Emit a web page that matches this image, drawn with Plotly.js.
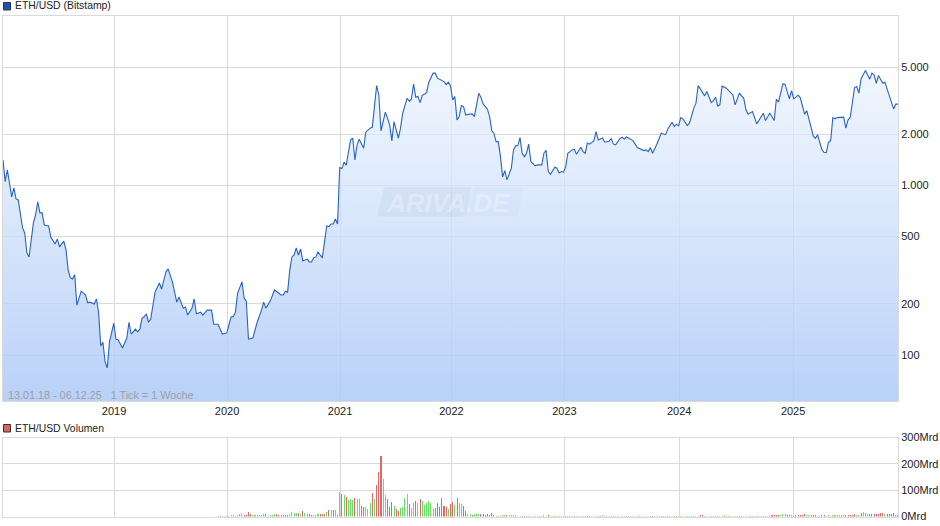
<!DOCTYPE html>
<html>
<head>
<meta charset="utf-8">
<script src="https://cdn.plot.ly/plotly-3.0.1.min.js"></script>
<style>html,body{margin:0;padding:0;background:#fff}#chart{width:940px;height:526px}</style>
</head>
<body>
<div id="chart"></div>
<script>
const startDate = '2018-01-13';
const priceWeeks = [0,1,2,4,5,6,7,9,10,11,12,14,15,16,17,18,19,21,22,24,25,26,28,29,30,31,32,33,34,35,36,38,39,40,42,43,44,45,46,47,48,49,51,52,53,55,56,57,58,59,61,62,63,64,65,66,67,68,70,72,73,75,76,78,80,81,83,84,85,87,88,89,91,92,94,96,97,99,101,103,105,106,107,108,110,111,112,113,115,117,119,120,121,123,125,128,129,130,131,132,133,134,135,136,137,138,140,141,142,143,144,145,147,148,149,150,151,152,153,154,155,156,157,158,160,161,162,163,164,166,167,169,170,172,173,174,176,177,178,179,180,182,183,184,185,186,187,188,189,190,191,192,193,195,196,198,199,200,203,204,205,206,207,208,209,210,211,212,213,216,217,219,220,221,223,224,225,226,227,228,229,230,231,232,234,235,236,237,238,239,240,241,242,243,245,246,248,249,250,251,252,254,255,256,257,258,259,260,262,263,264,266,267,268,269,270,272,273,274,276,277,279,280,281,282,284,285,286,287,289,290,292,293,295,296,297,298,299,301,303,305,306,308,309,310,311,312,313,315,316,318,319,320,323,324,326,327,328,329,330,331,333,336,337,339,341,342,343,345,347,350,351,353,355,356,357,359,360,362,363,364,366,367,369,370,373,374,375,377,378,379,380,381,382,383,384,387,388,389,390,392,393,394,395,397,399,400,401,402,403,405,406,407,409,410,411,412];
const priceValues = [1416,1054,1236,856,968,833,822,562,525,400,379,601,670,800,689,689,585,577,497,452,483,434,470,417,317,285,281,297,197,220,238,226,203,205,200,214,179,113,119,91,84,119,154,124,123,110,119,126,156,133,142,137,142,165,168,175,156,163,235,266,245,309,322,270,205,220,189,192,172,189,214,175,179,172,184,184,152,152,133,135,168,168,179,232,270,217,208,124,126,156,184,205,189,208,242,226,226,238,235,317,379,389,428,389,422,359,368,354,354,374,379,405,374,477,577,572,593,593,635,593,1275,1258,1372,1318,1858,1900,1416,1736,1875,1660,2063,2178,2205,3885,3420,2100,2708,2495,2280,1833,2380,1900,2178,2670,2990,3270,3145,3230,3960,3320,3350,3085,3390,3530,4070,4600,4600,4300,4100,3940,4070,3870,3200,3345,2440,2550,2960,2920,2610,2646,2550,3500,3320,3030,2820,2550,2110,2030,1815,1815,1480,1125,1225,1079,1265,1622,1713,1720,1918,1550,1480,1550,1753,1385,1305,1323,1323,1550,1615,1208,1165,1282,1265,1187,1208,1198,1282,1550,1622,1635,1530,1680,1585,1550,1780,1753,1833,2080,1858,1909,1800,1825,1890,1753,1736,1890,1927,1883,1935,1883,1840,1673,1645,1607,1622,1585,1673,1550,1753,2035,1995,2150,2363,2225,2300,2248,2515,2473,2257,2330,2860,3060,3885,3380,3585,3085,3158,3320,2950,2990,3855,3750,3420,2990,3500,3270,2794,2635,2730,2310,2670,2415,2670,2415,3230,3100,3978,3960,3245,3630,3245,3410,3300,2635,2765,1962,1900,1990,1622,1565,1565,1800,1840,2515,2473,2515,2530,2178,2440,2515,3780,3835,3500,4250,4765,4240,4600,4495,4010,4450,4010,4070,3700,3060,2830,3020,3020];

const volumeFirstWeek = 99;
const volumeValues = [
2.5,2.5,2.5,2.5,2.5,2.5,6,6,2.5,6,
10,10,6,6,18,10,6,6,6,6,
6,10,10,2.5,6,6,10,10,6,6,
6,6,6,10,18,14,14,14,10,22,
14,10,10,6,6,6,10,10,10,10,
18,25,25,25,25,6,94,86,82,75,
63,67,63,71,67,67,40,37,37,29,
52,90,67,120,170,230,143,82,67,37,
56,40,29,22,33,37,71,86,48,33,
52,60,52,67,60,44,52,60,52,29,
33,52,37,71,40,37,29,48,56,44,
71,52,48,40,22,10,10,6,10,10,
10,10,10,6,10,6,14,6,2.5,2.5,
2.5,6,6,6,6,6,6,6,2.5,2.5,2.5,
2.5,2.5,2.5,2.5,2.5,2.5,2.5,2.5,2.5,6,
2.5,5,2.5,2.5,2.5,2.5,2.5,2.5,2.5,2.5,
2.5,2.5,2.5,2.5,2.5,2.5,2.5,2.5,2.5,2.5,
2.5,2.5,2.5,2.5,2.5,2.5,5,2.5,2.5,2.5,
2.5,2.5,2.5,2.5,2.5,2.5,2.5,2.5,2.5,2.5,
2.5,2.5,2.5,2.5,2.5,2.5,2.5,2.5,2.5,2.5,
2.5,2.5,2.5,2.5,2.5,2.5,2.5,2.5,2.5,2.5,
2.5,2.5,2.5,2.5,2.5,2.5,2.5,2.5,2.5,2.5,
2.5,6,6,2.5,2.5,2.5,2.5,2.5,2.5,2.5,
2.5,2.5,5,2.5,2.5,2.5,2.5,2.5,2.5,2.5,
2.5,2.5,2.5,2.5,2.5,2.5,2.5,2.5,2.5,2.5,
2.5,2.5,2.5,2.5,
6,6,6,6,6,10,10,6,6,6,
2.5,6,6,6,6,10,6,6,6,6,
6,2.5,2.5,6,6,2.5,6,2.5,6,6,
6,6,6,6,6,6,6,6,10,6,
6,14,18,14,10,10,10,10,10,10,
14,14,10,10,10,10,14,6,6,6];
const volumeDirections = (
'rrrggrgggg'+'ggrrrrgggg'+'ggrggggrrr'+'rrrggggrgr'+'ggrrgggrrr'+
'grgrgrgrgr'+'gggrggrrgg'+'grgrrrggrr'+'rgrrggggrg'+'grgrgggggg'+
'rrrrrrgrrg'+'rggrrggrgg'+'grrrrrrrrg'+'rggrggggggg'+
'rrggrrrggg'+'grggrrrggg'+'rrrrgggrrr'+'rgggrrggrg'+'ggrrgggrrr'+'ggrrggggrr'+'ggrrrrgggr'+'rgggrrggrg'+
'grrggrrrgg'+'grgrrgggrr'+'rggrrrgggr'+'rggr'+
'rrrrgggrrg'+'grrrrrggrr'+'rgrrrggrgg'+'ggggrrrrrg'+'grgggrrrrr'+'rrgrrrrgrr');
const tickDates = ['2019-01-06','2020-01-05','2021-01-03','2021-12-28','2022-12-27','2024-01-01','2025-01-02'];
const tickYears = ['2019','2020','2021','2022','2023','2024','2025'];
const priceTicks = [100,200,500,1000,2000,5000];
const priceTickLabels = ['100','200','500','1.000','2.000','5.000'];
const volumeTicks = [0,100,200,300];
const volumeTickLabels = ['0Mrd','100Mrd','200Mrd','300Mrd'];

const W = 940, H = 526, FONT = '"Liberation Sans", Arial, sans-serif', GRID = '#dadada';
const weekToDate = w => new Date(Date.parse(startDate + 'T00:00:00Z') + w * 7 * 864e5).toISOString().slice(0, 10);
const fx = p => p / W, fy = p => 1 - p / H;
const rangeX = [weekToDate(0), weekToDate(412)];
const priceDates = priceWeeks.map(weekToDate);
const volumeDates = volumeValues.map((_, i) => weekToDate(volumeFirstWeek + i));
const volumeColors = volumeValues.map((_, i) => volumeDirections[i] === 'r' ? '#e06868' : '#68e068');

const traces = [
  {type:'scatter', mode:'lines', x:priceDates, y:priceValues, xaxis:'x', yaxis:'y',
   line:{color:'#2a63bf', width:1.1}, fill:'tozeroy',
   fillgradient:{type:'vertical', start:53.5, stop:5500, colorscale:[[0,'rgba(172,201,247,0.85)'],[1,'rgba(236,243,254,0.7)']]},
   hoverinfo:'skip', showlegend:false},
  {type:'bar', x:volumeDates, y:volumeValues, xaxis:'x2', yaxis:'y2',
   marker:{color:volumeColors, line:{width:0}}, width:3.3*864e5, hoverinfo:'skip', showlegend:false}
];

const para = (x0,x1,y0,y1,s,r) => `M ${fx(x0+s+r)} ${fy(y0)} L ${fx(x1-r)} ${fy(y0)} Q ${fx(x1)} ${fy(y0)} ${fx(x1-2)} ${fy(y0+r)} L ${fx(x1-s)} ${fy(y1-r)} Q ${fx(x1-s-1)} ${fy(y1)} ${fx(x1-s-r)} ${fy(y1)} L ${fx(x0+r)} ${fy(y1)} Q ${fx(x0)} ${fy(y1)} ${fx(x0+1)} ${fy(y1-r)} L ${fx(x0+s)} ${fy(y0+r)} Q ${fx(x0+s+1)} ${fy(y0)} ${fx(x0+s+r)} ${fy(y0)} Z`;

const sharedX = {type:'date', range:rangeX, tickmode:'array', tickvals:tickDates, showgrid:true, gridcolor:GRID, gridwidth:1,
  zeroline:false, showline:true, linecolor:GRID, linewidth:1, mirror:true, ticks:'', fixedrange:true};
const note = (x,y,text,size,color,extra) => Object.assign({xref:'paper',yref:'paper',x:fx(x),y:fy(y),text,showarrow:false,
  xanchor:'left',yanchor:'middle',font:{family:FONT,size,color},borderpad:0}, extra||{});

const layout = {
  width:W, height:H, autosize:false, margin:{l:0,r:0,t:0,b:0,pad:0},
  paper_bgcolor:'#fff', plot_bgcolor:'#fff', font:{family:FONT,size:11,color:'#222'}, bargap:0,
  xaxis:Object.assign({}, sharedX, {domain:[fx(3),fx(898)], anchor:'y', ticktext:tickYears, showticklabels:true, tickfont:{family:FONT,size:11,color:'#222'}}),
  xaxis2:Object.assign({}, sharedX, {domain:[fx(3),fx(898)], anchor:'y2', ticktext:tickYears, showticklabels:false}),
  yaxis:{type:'log', domain:[fy(401),fy(16)], range:[1.7286,4], side:'right', anchor:'x', tickmode:'array', tickvals:priceTicks, ticktext:priceTickLabels,
    showgrid:true, gridcolor:GRID, zeroline:false, showline:true, linecolor:GRID, mirror:true, ticks:'', tickfont:{family:FONT,size:11,color:'#222'}, fixedrange:true},
  yaxis2:{type:'linear', domain:[fy(516.5),fy(437.5)], range:[0,300], side:'right', anchor:'x2', tickmode:'array', tickvals:volumeTicks, ticktext:volumeTickLabels,
    showgrid:true, gridcolor:GRID, zeroline:false, showline:true, linecolor:GRID, mirror:true, ticks:'', tickfont:{family:FONT,size:11,color:'#222'}, fixedrange:true},
  shapes:[
    {type:'rect',xref:'paper',yref:'paper',x0:fx(3.5),x1:fx(10.5),y0:fy(10),y1:fy(2.5),fillcolor:'#1a56b8',line:{color:'#333',width:1}},
    {type:'rect',xref:'paper',yref:'paper',x0:fx(3.5),x1:fx(10.5),y0:fy(432),y1:fy(424.5),fillcolor:'#d96464',line:{color:'#333',width:1}},
    {type:'path',xref:'paper',yref:'paper',path:para(377,473,187,216.5,6,4),fillcolor:'rgba(140,160,195,0.11)',line:{width:0},layer:'above'},
    {type:'path',xref:'paper',yref:'paper',path:para(467,525,187,216.5,6,4),fillcolor:'rgba(150,170,205,0.06)',line:{width:0},layer:'above'}
  ],
  annotations:[
    note(13.5,6,'ETH/USD (Bitstamp)',10.4,'#222'),
    note(13.5,428,'ETH/USD Volumen',10.4,'#222'),
    note(6.5,395,'13.01.18 - 06.12.25\u00a0\u00a0\u00a01 Tick = 1 Woche',10.8,'#a0a0a0'),
    note(385,202.5,'<b><i>ARIVA</i></b>',26,'rgba(255,255,255,0.3)'),
    note(465,202.5,'<b><i>.DE</i></b>',26,'rgba(255,255,255,0.3)')
  ]
};
Plotly.newPlot('chart', traces, layout, {staticPlot:true, displayModeBar:false});
</script>
</body>
</html>
